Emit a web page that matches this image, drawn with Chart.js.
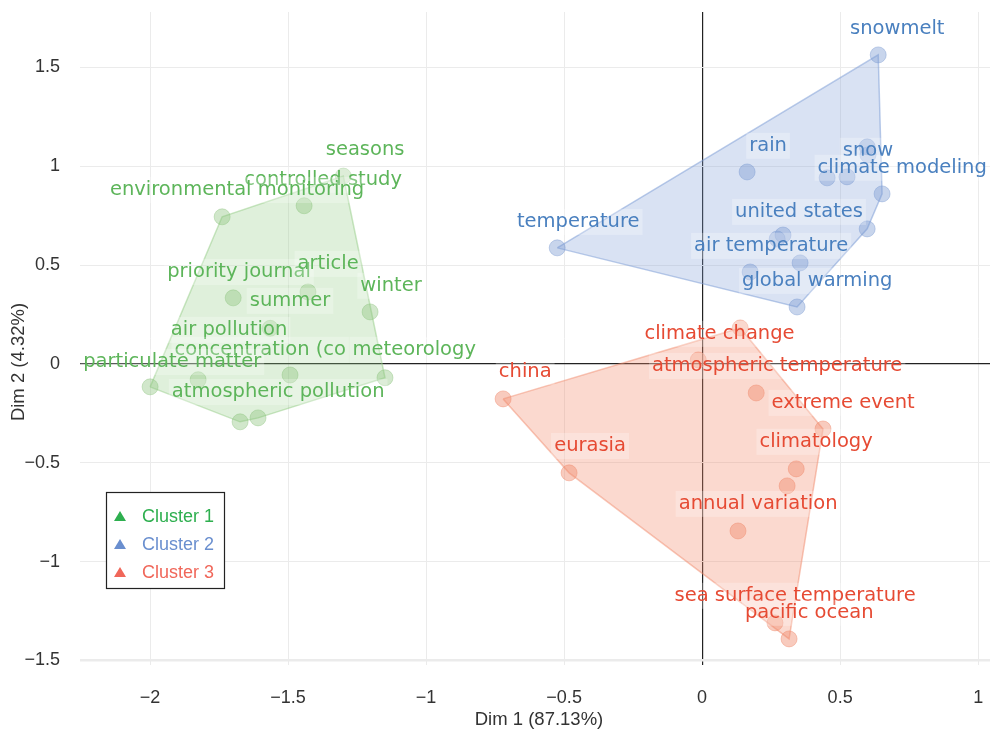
<!DOCTYPE html>
<html>
<head>
<meta charset="utf-8">
<script src="https://cdn.jsdelivr.net/npm/chart.js@4.4.0/dist/chart.umd.min.js"></script>
<style>
    html, body { margin: 0; padding: 0; background: #fff; }
</style>
</head>
<body>
<canvas id="chart" width="992" height="735"></canvas>
<script>
// cluster 1 (green) points
const c1X = [-1.739, -1.442, -1.300, -1.699, -1.428, -1.203, -1.565, -1.826, -2.000, -1.493, -1.149, -1.674, -1.609];
const c1Y = [0.744, 0.800, 0.950, 0.334, 0.364, 0.263, 0.180, -0.080, -0.116, -0.056, -0.070, -0.293, -0.273];
const c1Labels = ['seasons', 'controlled study', 'environmental monitoring', 'priority journal', 'article', 'summer',
    'winter', 'air pollution', 'concentration (co', 'meteorology', 'particulate matter', 'atmospheric pollution'];
const c1LabelX = [-1.221, -1.373, -1.685, -1.678, -1.355, -1.493, -1.127, -1.714, -1.601, -1.043, -1.920, -1.536];
const c1LabelY = [1.093, 0.941, 0.890, 0.475, 0.516, 0.329, 0.405, 0.182, 0.081, 0.081, 0.020, -0.132];

// cluster 2 (blue) points
const c2X = [0.638, 0.163, 0.453, 0.525, 0.598, 0.601, 0.652, 0.598, 0.293, 0.272, 0.355, 0.174, 0.344, -0.525];
const c2Y = [1.563, 0.971, 0.941, 0.946, 1.098, 1.057, 0.860, 0.683, 0.652, 0.632, 0.511, 0.465, 0.288, 0.587];
const c2Labels = ['snowmelt', 'rain', 'snow', 'climate modeling', 'temperature', 'united states', 'air temperature', 'global warming'];
const c2LabelX = [0.707, 0.239, 0.601, 0.725, -0.449, 0.351, 0.250, 0.417];
const c2LabelY = [1.705, 1.113, 1.088, 1.002, 0.728, 0.779, 0.607, 0.430];

// cluster 3 (red) points
const c3X = [0.138, -0.014, -0.721, 0.196, 0.438, 0.341, 0.308, -0.482, 0.130, 0.264, 0.315];
const c3Y = [0.182, 0.020, -0.177, -0.147, -0.329, -0.531, -0.617, -0.551, -0.845, -1.310, -1.391];
const c3Labels = ['climate change', 'atmospheric temperature', 'china', 'extreme event', 'climatology', 'eurasia',
    'annual variation', 'sea surface temperature', 'pacific ocean'];
const c3LabelX = [0.063, 0.272, -0.641, 0.511, 0.413, -0.406, 0.203, 0.337, 0.388];
const c3LabelY = [0.162, 0.000, -0.030, -0.187, -0.384, -0.405, -0.698, -1.163, -1.249];

const legendNames = ['Cluster 1', 'Cluster 2', 'Cluster 3'];

const clusters = [
    { xs: c1X, ys: c1Y, labels: c1Labels, lx: c1LabelX, ly: c1LabelY,
      text: '#5db55a', point: 'rgba(140,195,125,0.4)', fill: 'rgba(150,205,135,0.3)', line: 'rgba(150,205,135,0.5)', key: '#2eaf4f' },
    { xs: c2X, ys: c2Y, labels: c2Labels, lx: c2LabelX, ly: c2LabelY,
      text: '#4a80bf', point: 'rgba(125,155,210,0.42)', fill: 'rgba(130,160,215,0.3)', line: 'rgba(130,160,215,0.55)', key: '#6a8fcf' },
    { xs: c3X, ys: c3Y, labels: c3Labels, lx: c3LabelX, ly: c3LabelY,
      text: '#e64a33', point: 'rgba(240,140,110,0.45)', fill: 'rgba(242,140,110,0.33)', line: 'rgba(242,140,110,0.5)', key: '#f0675a' }
];

function toPoints(xs, ys) {
    return xs.map((v, i) => ({ x: v, y: ys[i] }));
}

// convex hull (monotone chain), closed
function hull(pts) {
    const p = pts.slice().sort((a, b) => a.x - b.x || a.y - b.y);
    const cross = (o, a, b) => (a.x - o.x) * (b.y - o.y) - (a.y - o.y) * (b.x - o.x);
    const lower = [], upper = [];
    p.forEach(q => {
        while (lower.length >= 2 && cross(lower[lower.length - 2], lower[lower.length - 1], q) <= 0) lower.pop();
        lower.push(q);
    });
    p.slice().reverse().forEach(q => {
        while (upper.length >= 2 && cross(upper[upper.length - 2], upper[upper.length - 1], q) <= 0) upper.pop();
        upper.push(q);
    });
    const h = lower.slice(0, -1).concat(upper.slice(0, -1));
    h.push(h[0]);
    return h;
}

const datasets = [];
clusters.forEach(c => {
    datasets.push({
        data: toPoints(c.xs, c.ys),
        pointRadius: 8,
        pointBackgroundColor: c.point,
        pointBorderColor: c.point,
        pointBorderWidth: 1,
        showLine: false,
        order: 1
    });
});
clusters.forEach(c => {
    datasets.push({
        data: hull(toPoints(c.xs, c.ys)),
        showLine: true,
        fill: 'shape',
        backgroundColor: c.fill,
        borderColor: c.line,
        borderWidth: 1.5,
        pointRadius: 0,
        tension: 0,
        order: 2
    });
});

const fmt = v => (v < 0 ? '\u2212' : '') + Math.abs(v);
const keepHalf = scale => {
    scale.ticks = scale.ticks.filter(t => Math.abs(t.value * 2 - Math.round(t.value * 2)) < 1e-6);
};
const gridColor = ctx => ctx.tick && ctx.tick.value === 0 ? '#222' : '#ebebeb';
const xGridWidth = ctx => ctx.tick && ctx.tick.value === 0 ? 1.2 : 1;
const yGridWidth = ctx => ctx.tick && ctx.tick.value === 0 ? 1.2 : (ctx.tick && ctx.tick.value === -1.5 ? 2.5 : 1);
const tickFont = { family: '"Liberation Sans", Arial', size: 18 };

// stretch the plot area to the right edge of the canvas
const areaPlugin = {
    id: 'area',
    afterLayout(chart) {
        const x = chart.scales.x;
        chart.chartArea.right = 990;
        chart.chartArea.width = chart.chartArea.right - chart.chartArea.left;
        x.right = 990;
        x.width = x.right - x.left;
        x.configure();
    }
};

const labelPlugin = {
    id: 'pointLabels',
    afterDatasetsDraw(chart) {
        const { ctx, scales: { x, y } } = chart;
        ctx.save();
        ctx.font = '19.5px "DejaVu Sans"';
        ctx.textAlign = 'center';
        ctx.textBaseline = 'middle';
        clusters.forEach(c => {
            c.labels.forEach((t, i) => {
                const px = x.getPixelForValue(c.lx[i]);
                const py = y.getPixelForValue(c.ly[i]) + 2;
                const w = ctx.measureText(t).width;
                ctx.fillStyle = 'rgba(255,255,255,0.25)';
                ctx.fillRect(px - w / 2 - 3, py - 13, w + 6, 26);
                ctx.fillStyle = c.text;
                ctx.fillText(t, px, py);
            });
        });
        ctx.restore();
    }
};

const framePlugin = {
    id: 'frame',
    afterDraw(chart) {
        const { ctx } = chart;
        ctx.save();
        // axis titles
        ctx.fillStyle = '#333';
        ctx.font = '18.5px "Liberation Sans", Arial';
        ctx.textAlign = 'center';
        ctx.textBaseline = 'middle';
        ctx.fillText('Dim 1 (87.13%)', 539, 720);
        ctx.translate(19, 362);
        ctx.rotate(-Math.PI / 2);
        ctx.fillText('Dim 2 (4.32%)', 0, 0);
        ctx.setTransform(1, 0, 0, 1, 0, 0);

        // legend box
        ctx.fillStyle = '#fff';
        ctx.fillRect(106, 492, 118, 96);
        ctx.strokeStyle = '#222';
        ctx.lineWidth = 1.2;
        ctx.strokeRect(106.5, 492.5, 118, 96);
        ctx.font = '18px "Liberation Sans", Arial';
        ctx.textAlign = 'left';
        legendNames.forEach((name, i) => {
            const cy = 516 + i * 28;
            ctx.fillStyle = clusters[i].key;
            ctx.beginPath();
            ctx.moveTo(120, cy - 5);
            ctx.lineTo(126, cy + 5);
            ctx.lineTo(114, cy + 5);
            ctx.closePath();
            ctx.fill();
            ctx.fillText(name, 142, cy + 1);
        });
        ctx.restore();
    }
};

new Chart(document.getElementById('chart'), {
    type: 'scatter',
    data: { datasets: datasets },
    options: {
        responsive: false,
        animation: false,
        layout: { padding: { top: 12, right: 2, left: 0, bottom: 0 } },
        plugins: { legend: { display: false }, tooltip: { enabled: false } },
        scales: {
            x: {
                type: 'linear',
                min: -2.254,
                max: 1.043,
                afterBuildTicks: keepHalf,
                afterFit: s => { s.height = 70; s.paddingLeft = 0; s.paddingRight = 0; },
                border: { display: false },
                grid: { color: gridColor, lineWidth: xGridWidth, drawTicks: false },
                ticks: { stepSize: 0.5, includeBounds: false, padding: 22, color: '#333', font: tickFont, callback: fmt }
            },
            y: {
                type: 'linear',
                min: -1.523,
                max: 1.78,
                afterBuildTicks: keepHalf,
                afterFit: s => { s.width = 80; s.paddingTop = 0; s.paddingBottom = 0; },
                border: { display: false },
                grid: { color: gridColor, lineWidth: yGridWidth, drawTicks: false },
                ticks: { stepSize: 0.5, includeBounds: false, padding: 20, color: '#333', font: tickFont, callback: fmt }
            }
        }
    },
    plugins: [areaPlugin, labelPlugin, framePlugin]
});
</script>
</body>
</html>
